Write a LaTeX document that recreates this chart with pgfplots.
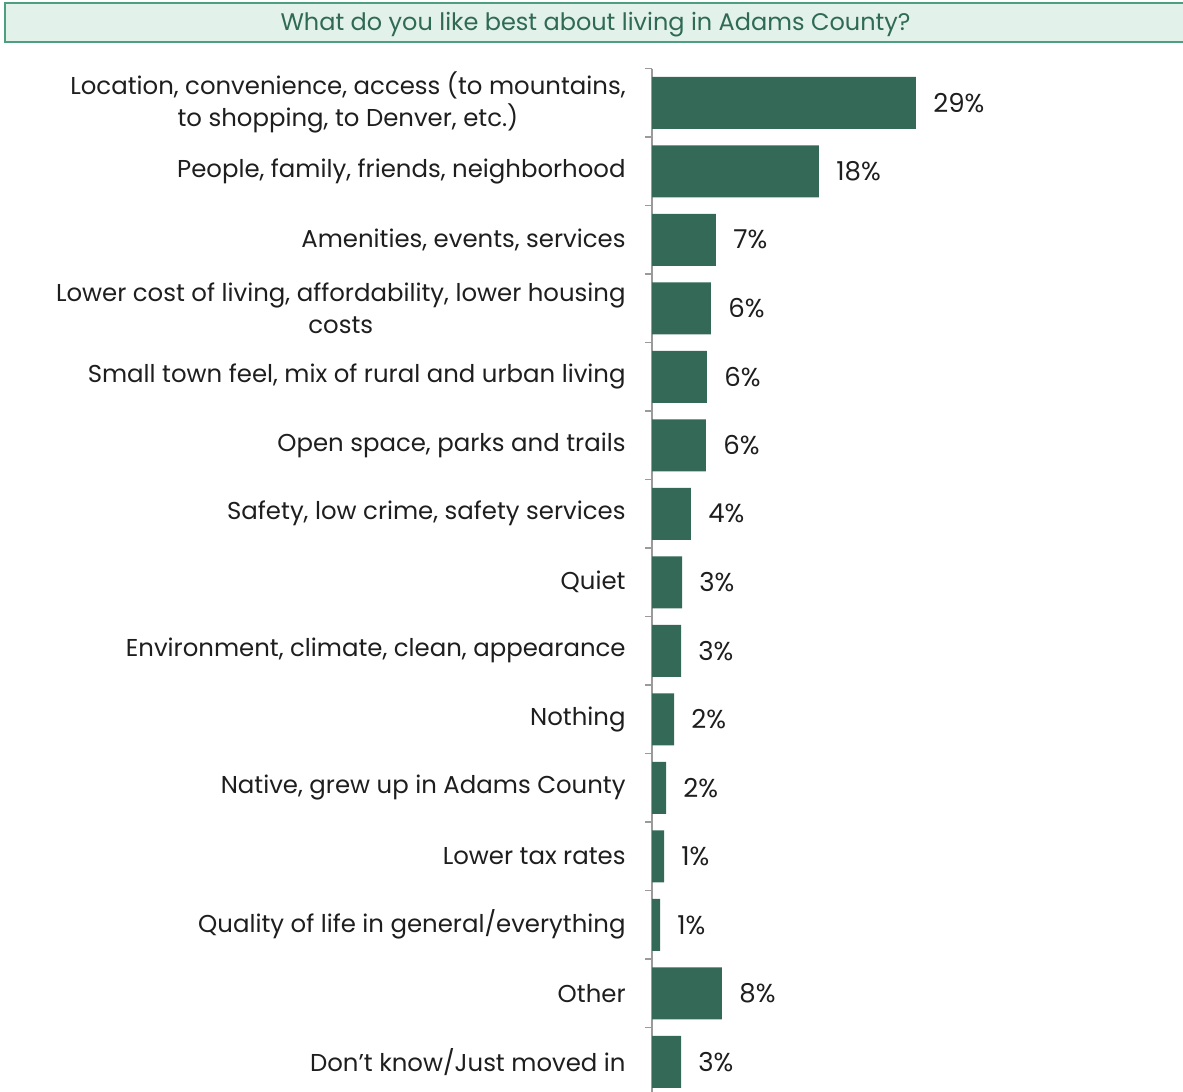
\documentclass[border=0pt]{standalone}
\usepackage{fontspec}
\setmainfont{Poppins}
\usepackage{pgfplots}
\usepackage{pgfplotstable}
\pgfplotsset{compat=1.18}
\definecolor{barc}{HTML}{336956}
\definecolor{titlefill}{HTML}{E3F1EB}
\definecolor{titledraw}{HTML}{4E9E80}
\definecolor{titletext}{HTML}{2F6A55}
\definecolor{txt}{HTML}{1E1E1E}
\definecolor{axc}{HTML}{9A9A9A}
\pgfplotstableread{
idx val lab
0 29.0 29
1 18.35 18
2 7.03 7
3 6.48 6
4 6.04 6
5 5.93 6
6 4.28 4
7 3.30 3
8 3.19 3
9 2.42 2
10 1.54 2
11 1.32 1
12 0.88 1
13 7.69 8
14 3.19 3
}\data
\begin{document}
\begin{tikzpicture}
\path[use as bounding box] (0,0) rectangle (591.5bp,-546bp);
\draw[titledraw, line width=1bp, fill=titlefill] (2.5bp,-1.5bp) rectangle (600bp,-21bp);
\node[titletext, font=\fontsize{12bp}{14bp}\selectfont] at (297.75bp,-12.5bp) {What do you like best about living in Adams County?};
\begin{axis}[
  at={(326bp,-34.25bp)}, anchor=north west,
  scale only axis,
  width=265.5bp, height=513.75bp,
  xmin=0, xmax=58.35,
  ymin=-0.5, ymax=14.5,
  y dir=reverse,
  axis x line=none,
  axis y line*=left,
  y axis line style={draw=axc, line width=0.8bp},
  ytick={0,...,14},
  major tick length=0pt,
  minor ytick={-0.5,0.5,...,14.5},
  minor tick length=3.5bp,
  tick align=outside,
  minor tick style={axc, line width=0.8bp},
  yticklabels={
    {Location, convenience, access (to mountains,\\to shopping, to Denver, etc.)},
    {People, family, friends, neighborhood},
    {Amenities, events, services},
    {Lower cost of living, affordability, lower housing\\costs},
    {Small town feel, mix of rural and urban living},
    {Open space, parks and trails},
    {Safety, low crime, safety services},
    {Quiet},
    {Environment, climate, clean, appearance},
    {Nothing},
    {Native, grew up in Adams County},
    {Lower tax rates},
    {Quality of life in general/everything},
    {Other},
    {Don't know/Just moved in}},
  yticklabel style={align=center, anchor=east, inner sep=0pt, xshift=-13bp,
    text=txt, font=\fontsize{12.2bp}{16bp}\selectfont},
  /pgf/number format/assume math mode=true,
  xbar, bar width=26bp,
  nodes near coords={\pgfmathprintnumber{\pgfplotspointmeta}\%},
  point meta=explicit,
  nodes near coords style={anchor=west, inner sep=0pt, xshift=8.5bp, text=txt,
    font=\fontsize{13bp}{15bp}\selectfont},
  clip=false,
]
\addplot[fill=barc, draw=none] table[x=val, y=idx, meta=lab] {\data};
\end{axis}
\end{tikzpicture}
\end{document}
